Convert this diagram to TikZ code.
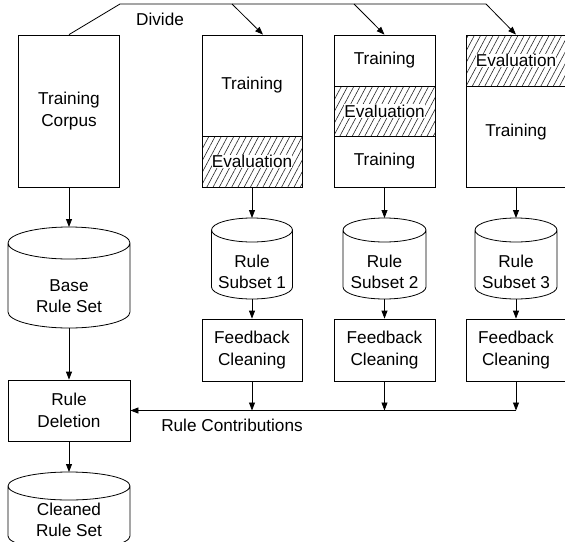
\documentclass[tikz,border=0pt]{standalone}
\usepackage{fontspec}
\setmainfont{Liberation Sans}
\usetikzlibrary{arrows.meta,patterns.meta}
\newcommand\drawcyl[3]{\draw[cylline] ([yshift=-#3pt]#1.north west) -- ([yshift=#3pt]#1.south west) arc[start angle=180,end angle=360,x radius=#2pt,y radius=#3pt] -- ([yshift=-#3pt]#1.north east) arc[start angle=0,end angle=360,x radius=#2pt,y radius=#3pt];}
\begin{document}
\begin{tikzpicture}[x=1pt,y=1pt,
  every node/.style={font=\fontsize{17.2}{21.5}\selectfont, align=center, inner sep=0pt},
  box/.style={draw, line width=0.8pt, rectangle},
  evalbox/.style={box, pattern={Lines[angle=62,distance=5.5pt,line width=0.6pt]}, pattern color=black!85},
  evaltext/.style={fill=white, inner sep=0.3pt},
  cylbox/.style={rectangle, outer sep=0pt},
  cylline/.style={line width=0.8pt},
  conn/.style={line width=0.8pt},
  arr/.style={line width=0.8pt, -{Triangle[length=8pt,width=6pt]}}]
\useasboundingbox (0,0) rectangle (565,-541);

% left column
\node[box, minimum width=101pt, minimum height=152pt] (tc) at (69,-111) {Training\\Corpus};
\node[cylbox, minimum width=122pt, minimum height=101pt] (base) at (69,-277.5) {};
\drawcyl{base}{61}{16}
\node (baset) at (69,-296) {Base\\Rule Set};
\node[box, minimum width=122pt, minimum height=61pt] (rd) at (69,-410.5) {Rule\\Deletion};
\node[cylbox, minimum width=122pt, minimum height=78pt] (clean) at (69,-511) {};
\drawcyl{clean}{61}{14}
\node (cleant) at (69,-520) {Cleaned\\Rule Set};

% split 1
\node[box, minimum width=100pt, minimum height=101pt] (b1t) at (252,-85.5) {Training};
\node[evalbox, minimum width=100pt, minimum height=51pt] (b1e) at (252,-161.5) {};
\node[evaltext] (b1et) at (b1e.center) {Evaluation};
% split 2
\node[box, minimum width=101pt, minimum height=51pt] (b2ta) at (384.5,-60.5) {Training};
\node[evalbox, minimum width=101pt, minimum height=50pt] (b2e) at (384.5,-111) {};
\node[evaltext] (b2et) at (b2e.center) {Evaluation};
\node[box, minimum width=101pt, minimum height=51pt] (b2tb) at (384.5,-161.5) {Training};
% split 3
\node[evalbox, minimum width=100pt, minimum height=51pt] (b3e) at (516,-60.5) {};
\node[evaltext] (b3et) at (b3e.center) {Evaluation};
\node[box, minimum width=100pt, minimum height=101pt] (b3t) at (516,-136.5) {};
\node (b3tt) at (516,-132) {Training};

% rule subsets
\node[cylbox, minimum width=81pt, minimum height=81pt] (rs1) at (252,-258.5) {};
\drawcyl{rs1}{40.5}{12}
\node (rs1t) at (252,-272) {Rule\\Subset 1};
\node[cylbox, minimum width=83pt, minimum height=81pt] (rs2) at (384.5,-258.5) {};
\drawcyl{rs2}{41.5}{12}
\node (rs2t) at (384.5,-272) {Rule\\Subset 2};
\node[cylbox, minimum width=82pt, minimum height=81pt] (rs3) at (516,-258.5) {};
\drawcyl{rs3}{41}{12}
\node (rs3t) at (516,-272) {Rule\\Subset 3};

% feedback cleaning
\node[box, minimum width=100pt, minimum height=62pt] (fb1) at (252,-350) {Feedback\\Cleaning};
\node[box, minimum width=101pt, minimum height=62pt] (fb2) at (384.5,-350) {Feedback\\Cleaning};
\node[box, minimum width=100pt, minimum height=62pt] (fb3) at (516,-350) {Feedback\\Cleaning};

% divide
\coordinate (d0) at (120,-4);
\coordinate (d1) at (232,-4);
\coordinate (d2) at (354,-4);
\coordinate (d3) at (486,-4);
\draw[conn] (tc.north) -- (d0) -- (d3);
\draw[arr] (d1) -- ([xshift=11pt]b1t.north);
\draw[arr] (d2) -- (b2ta.north);
\draw[arr] (d3) -- (b3e.north);
\node (div) at (160,-19) {Divide};

% vertical flows
\draw[arr] (tc.south) -- (base.north);
\draw[arr] (base.south) -- (rd.north);
\draw[arr] (rd.south) -- (clean.north);
\draw[arr] (b1e.south) -- (rs1.north);
\draw[arr] (b2tb.south) -- (rs2.north);
\draw[arr] (b3t.south) -- (rs3.north);
\draw[arr] (rs1.south) -- (fb1.north);
\draw[arr] (rs2.south) -- (fb2.north);
\draw[arr] (rs3.south) -- (fb3.north);

% rule contributions
\coordinate (c1) at (fb1.south |- rd.east);
\coordinate (c2) at (fb2.south |- rd.east);
\coordinate (c3) at (fb3.south |- rd.east);
\draw[arr] (fb1.south) -- (c1);
\draw[arr] (fb2.south) -- (c2);
\draw[arr] (fb3.south) -- (c3);
\draw[arr] (c3) -- (rd.east);
\node (rc) at (232,-425) {Rule Contributions};
\end{tikzpicture}
\end{document}
